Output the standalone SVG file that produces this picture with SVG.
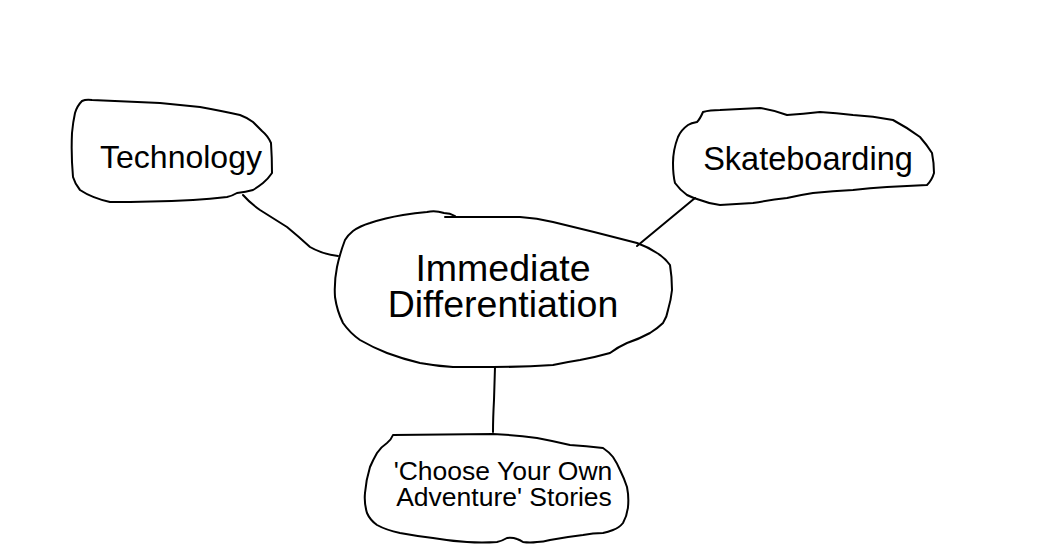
<svg xmlns="http://www.w3.org/2000/svg" width="1055" height="554" viewBox="0 0 1055 554">
<style>
.blob{fill:none;stroke:#000;stroke-width:2;stroke-linejoin:round;stroke-linecap:round}
.con{fill:none;stroke:#000;stroke-width:2;stroke-linecap:round;stroke-linejoin:round}
text{font-family:"Liberation Sans",Arial,sans-serif;fill:#000;text-anchor:middle}
</style>
<rect width="1055" height="554" fill="#fff"/>
<g id="connectors">
<path class="con" d="M243,195 Q250,203 260,210 L287,227 Q298,236 310,247 Q322,254 338,256"/>
<path class="con" d="M695,198 L637,246"/>
<path class="con" d="M495,367 L494,400 Q493,418 493,432"/>
</g>
<g id="technology">
<path class="blob" d="M82,101 Q86,99 92,100 L160,103 L200,107 Q222,111 240,115 Q248,118 253,122 L262,131 Q268,136 271,143 Q272,158 272,173 Q268,179 263,183 Q258,187 253,190 Q246,192 237,193 Q232,196 227,197 Q210,199 193,200 Q150,202 110,202 Q92,198 80,190 Q75,184 73,177 Q71,155 72,133 Q73,122 75,113 Q77,106 82,101 Z"/>
<text x="181" y="168" font-size="32">Technology</text>
</g>
<g id="skateboarding">
<path class="blob" d="M703,112 Q700,119 697,122 Q691,123 688,125 Q681,130 678,137 Q673,150 673,163 Q673,175 675,183 Q680,190 687,195 Q693,198 700,200 Q710,204 720,205 Q736,204 753,203 Q770,200 787,198 Q800,195 813,193 Q833,191 853,190 Q870,188 887,187 Q907,186 927,185 Q932,180 934,173 Q934,163 932,153 Q927,145 920,137 Q908,128 893,120 Q873,116 853,115 Q836,113 820,112 Q803,114 787,115 Q773,110 760,108 Q740,109 720,110 Q710,110 703,112"/>
<text x="808" y="170" font-size="32.5">Skateboarding</text>
</g>
<g id="immediate">
<path class="blob" d="M455,216 Q450,213 444,213 Q435,210 427,212 Q415,213 403,215 Q385,218 370,223 Q360,226 353,231 Q348,235 345,240 Q340,253 337,267 Q334,282 335,297 Q337,311 343,323 Q350,333 360,340 Q372,347 387,353 Q403,359 420,363 Q436,366 453,367 L493,367 Q523,367 553,365 Q567,362 580,360 Q596,357 610,353 Q618,347 627,343 Q639,339 650,333 Q658,328 663,323 Q667,317 668,310 Q671,300 672,290 Q672,277 670,265 Q665,258 657,253 Q648,247 637,243 Q595,232 553,222 Q537,218 520,217 L445,217"/>
<text x="503" y="281" font-size="37.5">Immediate</text>
<text x="503" y="317" font-size="37.5">Differentiation</text>
</g>
<g id="choose">
<path class="blob" d="M393,435 L493,434 Q515,435 537,438 Q553,441 570,445 Q586,446 603,448 Q609,452 613,457 Q617,463 620,470 Q624,478 627,487 Q629,497 628,507 Q627,516 623,523 Q619,528 613,530 Q608,532 603,533 Q593,533 583,535 Q566,537 550,540 Q543,542 537,542 Q530,543 523,542 Q520,540 517,539 Q512,537 507,538 Q502,541 497,542 Q482,543 467,542 Q450,541 433,538 Q416,536 400,533 Q386,530 377,525 Q370,520 367,513 Q364,503 365,493 Q366,480 370,467 Q373,460 377,453 Q381,447 387,443 Q391,440 393,435 Z"/>
<text x="503" y="480" font-size="26.5">'Choose Your Own</text>
<text x="504" y="506" font-size="26.5">Adventure' Stories</text>
</g>
</svg>
